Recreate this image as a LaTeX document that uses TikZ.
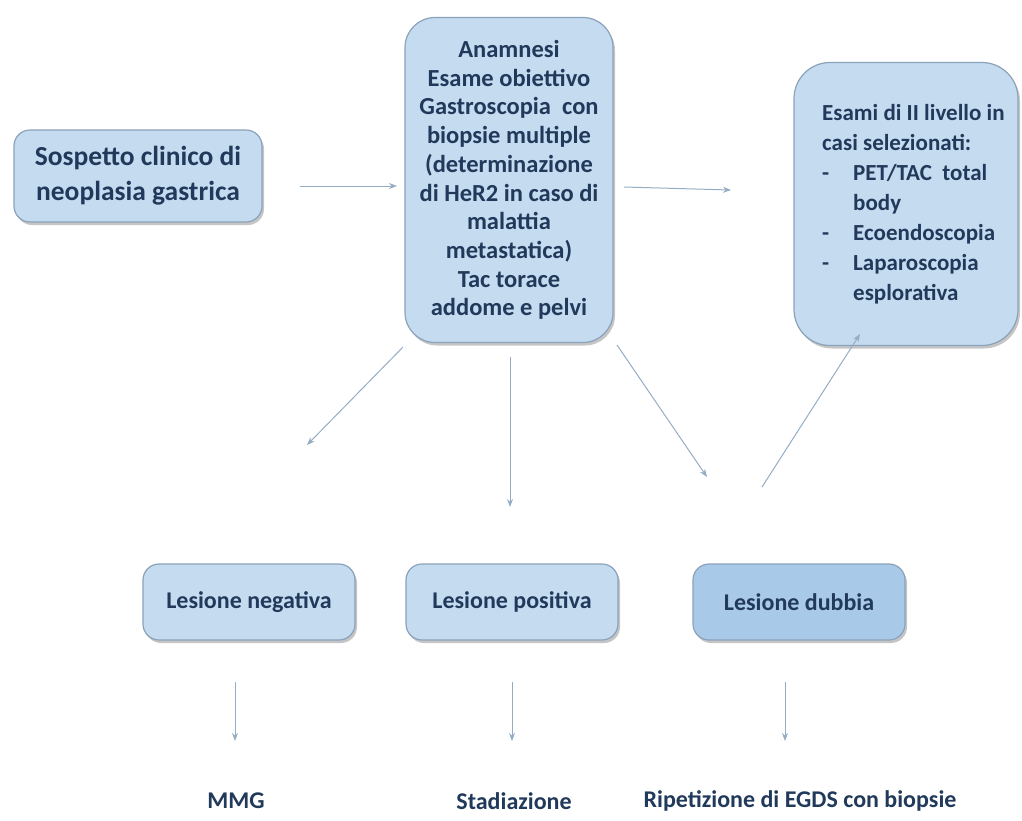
\documentclass[tikz,border=0pt]{standalone}
\usepackage{fontspec}
\setmainfont{Carlito}
\usetikzlibrary{arrows.meta,shadows}
\definecolor{boxfill}{HTML}{C5DBF0}
\definecolor{boxfilldark}{HTML}{A9C9E8}
\definecolor{boxline}{HTML}{8AA2BA}
\definecolor{txt}{HTML}{21395A}
\definecolor{arrcol}{HTML}{94ADC4}
\tikzset{
  x=1pt,y=-1pt,
  box/.style={draw=boxline, line width=1.2pt, fill=boxfill, text=txt,
    font=\bfseries, align=center, inner sep=2pt,
    drop shadow={shadow xshift=2pt, shadow yshift=-3pt, fill=black!45, opacity=0.5}},
  arr/.style={draw=arrcol, line width=1pt, -{Stealth[length=8pt,width=6pt]}},
  outtxt/.style={text=txt, font=\bfseries\fontsize{24}{28}\selectfont, inner sep=0pt}
}
\begin{document}
\begin{tikzpicture}
\useasboundingbox (0,0) rectangle (1022,820);
% nodes
\node[box, rounded corners=16pt, minimum width=248pt, minimum height=92pt,
  font=\bfseries\fontsize{27.5}{35}\selectfont] (A) at (138,176)
  {Sospetto clinico di\\neoplasia gastrica};
\node[box, rounded corners=30pt, minimum width=208pt, minimum height=325pt,
  font=\bfseries\fontsize{24.5}{28.7}\selectfont] (B) at (509,180)
  {Anamnesi\\Esame obiettivo\\Gastroscopia\ \ con\\biopsie multiple\\(determinazione\\di HeR2 in caso di\\malattia\\metastatica)\\Tac torace\\addome e pelvi};
\node[box, rounded corners=36pt, minimum width=224pt, minimum height=283pt] (C) at (906,204) {};
\node[text=txt, align=left, anchor=north west, inner sep=0pt,
  font=\bfseries\fontsize{23}{30}\selectfont] (Ct) at (822,104)
  {Esami di II livello in\\casi selezionati:\\
   -\hspace{24pt}PET/TAC\ \ total\\\hspace{31pt}body\\
   -\hspace{24pt}Ecoendoscopia\\
   -\hspace{24pt}Laparoscopia\\\hspace{31pt}esplorativa};
\node[box, rounded corners=16pt, minimum width=212pt, minimum height=76pt,
  font=\bfseries\fontsize{24}{28}\selectfont] (N) at (249,602) {Lesione negativa};
\node[box, rounded corners=16pt, minimum width=212pt, minimum height=76pt,
  font=\bfseries\fontsize{24}{28}\selectfont] (P) at (512,602) {Lesione positiva};
\node[box, fill=boxfilldark, rounded corners=16pt, minimum width=212pt, minimum height=76pt,
  font=\bfseries\fontsize{24}{28}\selectfont] (D) at (799,602) {Lesione dubbia};
\node[outtxt] (M) at (236,801) {MMG};
\node[outtxt] (S) at (514,801) {Stadiazione};
\node[outtxt] (R) at (800,801) {Ripetizione di EGDS con biopsie};
% connector end points
\coordinate (a1) at (300,186); \coordinate (b1) at (397,186);
\coordinate (b2) at (624,187); \coordinate (c1) at (731,190);
\coordinate (b3) at (403,347); \coordinate (n1) at (307,445);
\coordinate (b4) at (510,357); \coordinate (p1) at (510,507);
\coordinate (b5) at (617,345); \coordinate (d1) at (707,477);
\coordinate (d2) at (762,487); \coordinate (c2) at (860,334);
\coordinate (n2) at (235,682); \coordinate (m1) at (235,741);
\coordinate (p2) at (512,682); \coordinate (s1) at (512,741);
\coordinate (d3) at (785,682); \coordinate (r1) at (785,741);
% connectors
\draw[arr] (a1) -- (b1);
\draw[arr] (b2) -- (c1);
\draw[arr] (b3) -- (n1);
\draw[arr] (b4) -- (p1);
\draw[arr] (b5) -- (d1);
\draw[arr] (d2) -- (c2);
\draw[arr] (n2) -- (m1);
\draw[arr] (p2) -- (s1);
\draw[arr] (d3) -- (r1);
\end{tikzpicture}
\end{document}
